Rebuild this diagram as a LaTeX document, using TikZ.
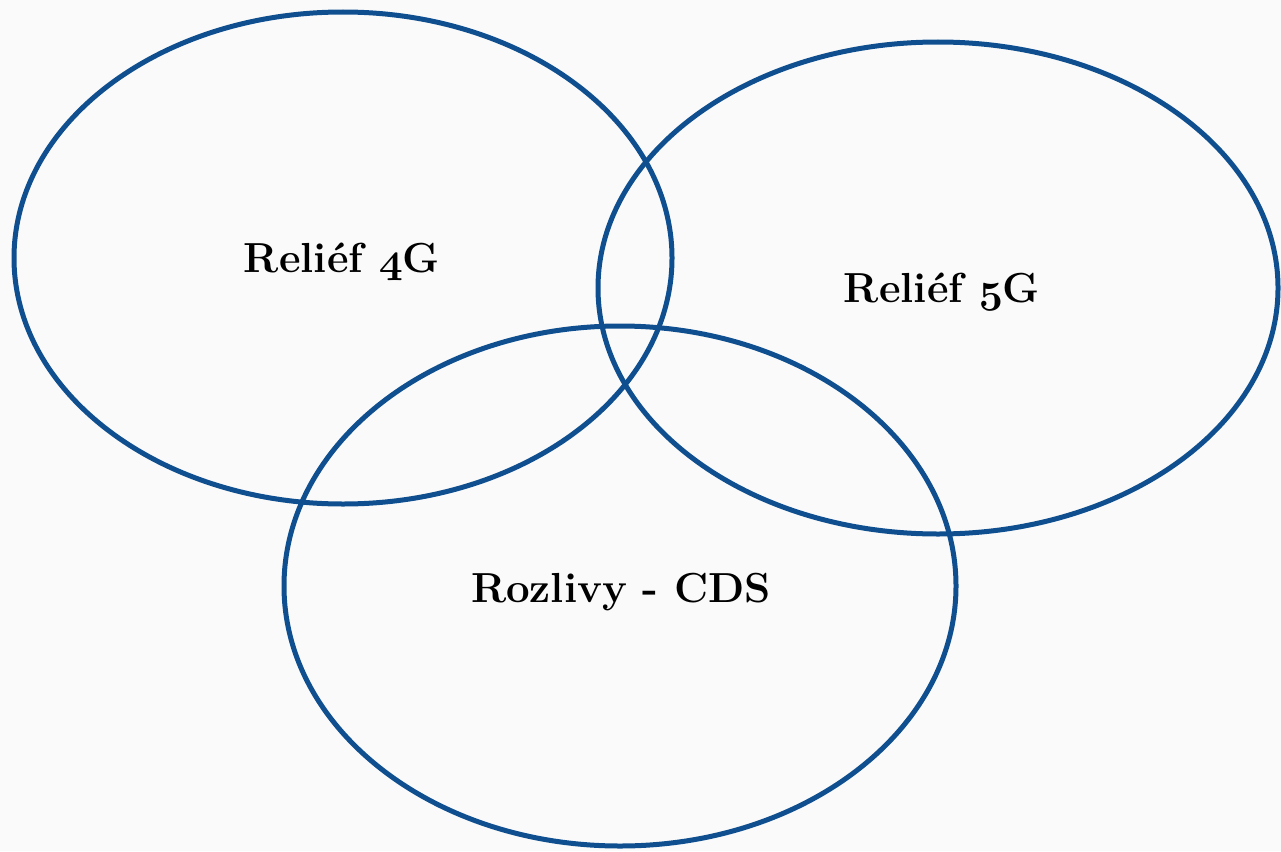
\RequirePackage{fix-cm}
\documentclass[tikz,border=0pt]{standalone}
\newcommand{\osn}[1]{{\fontencoding{OML}\fontfamily{cmm}\fontseries{b}\fontshape{it}\selectfont #1}}
\begin{document}
\begin{tikzpicture}[x=1pt,y=-1pt]
\definecolor{ringblue}{HTML}{0F4F8F}
\definecolor{bg}{HTML}{FAFAFA}
\tikzset{ring/.style={draw=ringblue,line width=5pt},
  lab/.style={font=\fontsize{42}{48}\bfseries\selectfont,text=black}}
\fill[bg] (0,0) rectangle (1281,851);
\useasboundingbox (0,0) rectangle (1281,851);
\draw[ring] (343,258) ellipse [x radius=329, y radius=246];
\draw[ring] (938,288) ellipse [x radius=340, y radius=246];
\draw[ring] (620,586) ellipse [x radius=336, y radius=260];
\node[lab] (t4g) at (342,262) {Reliéf \osn{4}G};
\node[lab] (t5g) at (942,292) {Reliéf \osn{5}G};
\node[lab] (tcds) at (621,592) {Rozlivy - CDS};
\end{tikzpicture}
\end{document}
